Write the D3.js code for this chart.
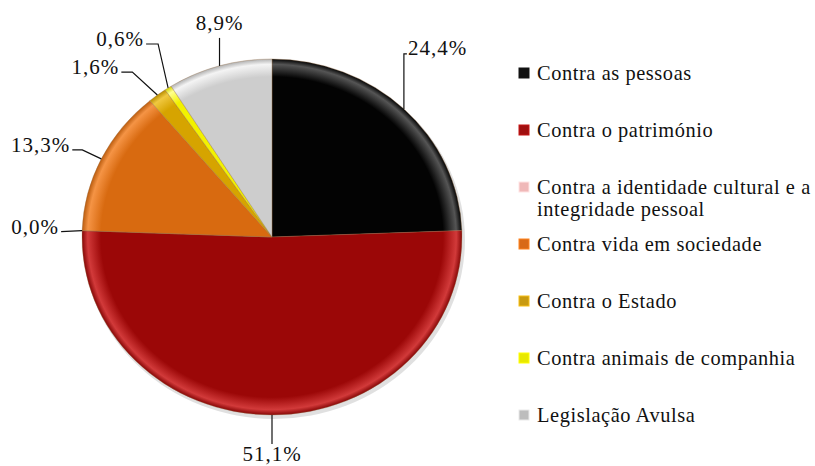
<!DOCTYPE html>
<html><head><meta charset="utf-8">
<script src="https://cdn.jsdelivr.net/npm/d3@7"></script>
<style>
html,body{margin:0;padding:0;background:#fff;}
</style></head>
<body>
<svg id="chart" width="815" height="466" font-family="Liberation Serif"></svg>
<script>
// ---- data ----
const categories = ["Contra as pessoas","Contra o património","Contra a identidade cultural e a|integridade pessoal","Contra vida em sociedade","Contra o Estado","Contra animais de companhia","Legislação Avulsa"];
const values = [24.4, 51.1, 0.0, 13.3, 1.6, 0.6, 8.9];

// ---- styles / layout ----
const colors = ["#030303","#9b0707","#f2b3b3","#d86a10","#d6a400","#f2f200","#cdcdcd"];
const highlights = ["#555555","#d23a3a","#fde0e0","#f59445","#f0c840","#ffff90","#f4f4f4"];
const legendColors = ["#111","#a01010","#f0b8b8","#d86a18","#c89a10","#e8e800","#bdbdbd"];
// leader layout: elbow offset from slice edge point, tail length, text anchor
const leaders = [
  {ex:0, ey:-55, tail:3, anchor:"start"},
  {ex:0, ey:29, tail:0, anchor:"middle"},
  {ex:-21, ey:1, tail:0, anchor:"end"},
  {ex:-19, ey:-9, tail:-10, anchor:"end"},
  {ex:-25, ey:-23, tail:-11, anchor:"end"},
  {ex:-10, ey:-44, tail:-12, anchor:"end"},
  {ex:0, ey:-28, tail:0, anchor:"middle"}
];

const svg = d3.select("#chart");
const cx = 272, cy = 237, rx = 190, ry = 178;
const fmt = v => d3.format(".1f")(v).replace(".", ",") + "%";

const pie = d3.pie().sort(null).value(d => d);
const arcs = pie(values);
const arc = d3.arc().innerRadius(0).outerRadius(rx);

const defs = svg.append("defs");
colors.forEach((c,i) => {
  const rg = defs.append("radialGradient").attr("id","grad"+i)
    .attr("gradientUnits","userSpaceOnUse").attr("cx",0).attr("cy",0).attr("r",rx);
  rg.append("stop").attr("offset","0%").attr("stop-color", c);
  rg.append("stop").attr("offset","90%").attr("stop-color", c);
  rg.append("stop").attr("offset","97%").attr("stop-color", highlights[i]);
  rg.append("stop").attr("offset","100%").attr("stop-color", d3.color(c).darker(0.4));
});

svg.append("ellipse").attr("cx", cx + 2).attr("cy", cy + 3).attr("rx", rx + 1).attr("ry", ry + 1)
  .attr("fill", "#000").attr("opacity", 0.12);

const g = svg.append("g").attr("transform", `translate(${cx},${cy}) scale(1,${ry/rx})`);
g.selectAll("path.base").data(arcs).join("path")
  .attr("class","base")
  .attr("d", arc)
  .attr("fill", (d,i) => `url(#grad${i})`)
  .attr("stroke", "rgba(150,110,70,0.45)")
  .attr("stroke-width", 0.8);

// ---- labels with leader lines (texts placed directly under svg) ----
arcs.forEach((d,i) => {
  const a = (d.startAngle + d.endAngle) / 2;
  const px = cx + rx * Math.sin(a), py = cy - ry * Math.cos(a);
  const L = leaders[i];
  const exx = px + L.ex, eyy = py + L.ey;
  const tx = exx + L.tail;
  svg.append("path")
    .attr("d", d3.line()([[px,py],[exx,eyy],[tx,eyy]]))
    .attr("fill","none").attr("stroke","#111").attr("stroke-width",1.2);
  let lx = tx, ly = eyy + 6;
  if (L.anchor === "start") { lx = tx + 1; ly = eyy + 1; }
  else if (L.anchor === "end") { lx = tx - 2; ly = eyy + 2; }
  else if (L.ey < 0) { ly = eyy - 8; }
  else { ly = eyy + 17; }
  svg.append("text")
    .attr("x", lx).attr("y", ly)
    .attr("font-family", "Liberation Serif")
    .attr("font-size", 21)
    .attr("letter-spacing", 1)
    .attr("text-anchor", L.anchor)
    .attr("fill", "#111")
    .text(fmt(values[i]));
});

// ---- legend ----
const legendY = d3.scaleLinear().domain([0, categories.length - 1]).range([73, 415]);
const legTexts = [];
categories.forEach((c,i) => {
  const y = legendY(i);
  svg.append("rect")
    .attr("x", 519).attr("y", y - 5).attr("width", 10).attr("height", 10)
    .attr("fill", legendColors[i])
    .attr("stroke", d3.color(legendColors[i]).brighter(0.6))
    .attr("stroke-width", 1);
  c.split("|").forEach((line, k) => {
    const t = svg.append("text")
      .attr("x", 537).attr("y", y + 7 + k * 22)
      .attr("font-family", "Liberation Serif")
      .attr("font-size", 21)
      .attr("letter-spacing", 0.6)
      .attr("fill", "#111")
      .text(line);
    legTexts.push(t);
  });
});
// keep the legend inside the window whatever font is substituted
const maxW = d3.max(legTexts, t => t.node().getComputedTextLength());
const avail = 815 - 537 - 4;
if (maxW > avail) {
  const k = avail / maxW;
  legTexts.forEach(t => t.attr("font-size", 21 * k).attr("letter-spacing", 0.6 * k));
}
</script>
</body></html>
